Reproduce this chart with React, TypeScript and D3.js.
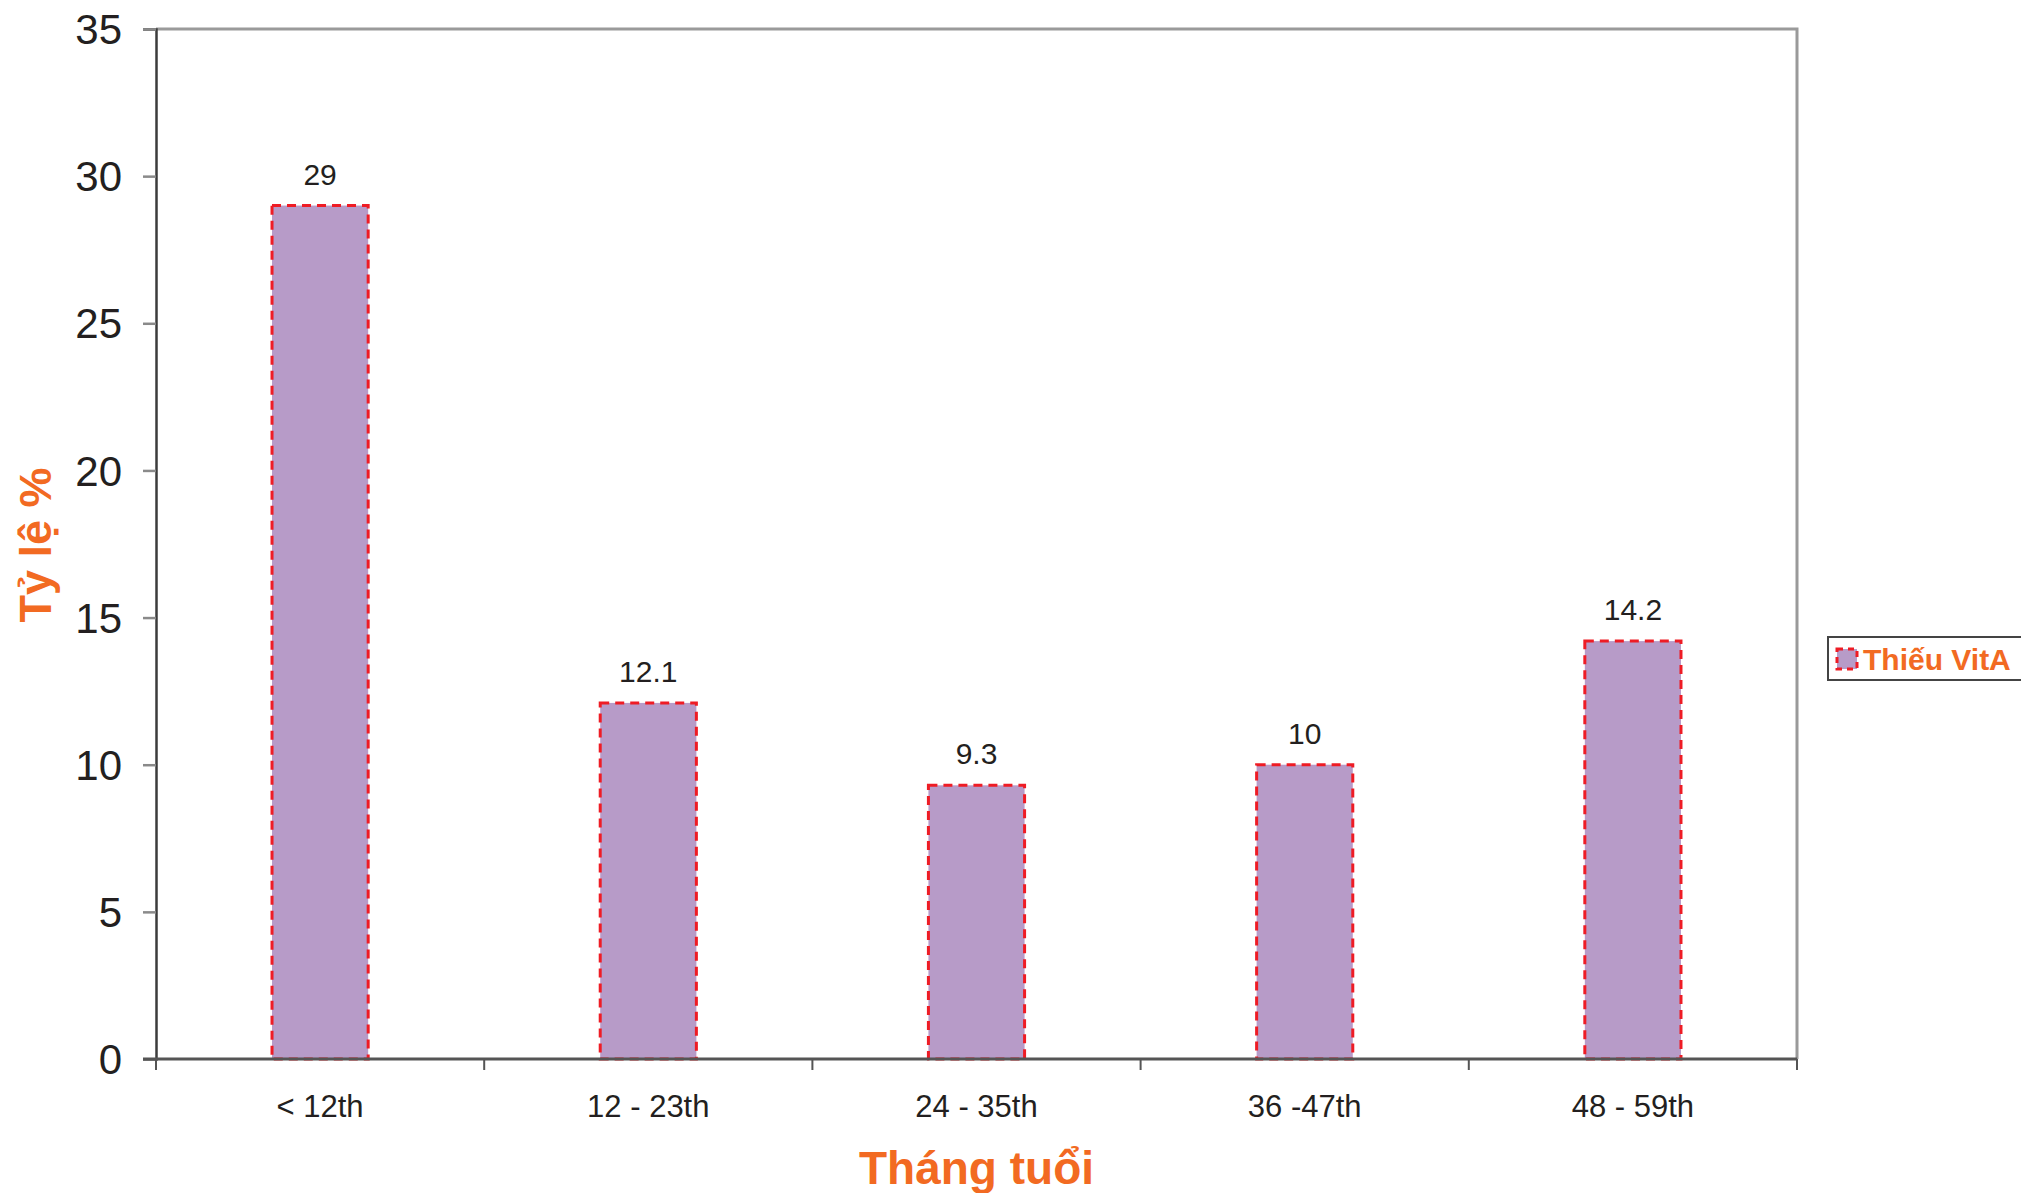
import * as d3 from "d3";
import { useEffect, useRef } from "react";

const categories = ["< 12th", "12 - 23th", "24 - 35th", "36 -47th", "48 - 59th"];
const values = [29, 12.1, 9.3, 10, 14.2];
const yTicks = [0, 5, 10, 15, 20, 25, 30, 35];
const seriesName = "Thiếu VitA";
const xTitle = "Tháng tuổi";
const yTitle = "Tỷ lệ %";

const FONT = "'Liberation Sans', Arial, Helvetica, sans-serif";
const ORANGE = "#f26a22";
const BAR = "#b79bc8";
const RED = "#ee1c25";

const App = () => {
  const ref = useRef<SVGSVGElement>(null);

  useEffect(() => {
    document.body.style.margin = "0";
    const svg = d3.select(ref.current);
    svg.selectAll("*").remove();
    const width = 2021;
    const height = 1193;
    svg.attr("width", width).attr("height", height);

    const margin = { top: 29, right: 224, bottom: 134, left: 156 };
    const x0 = margin.left;
    const x1 = width - margin.right;
    const y0 = height - margin.bottom;
    const y1 = margin.top;

    const xScale = d3
      .scaleBand<string>()
      .domain(categories)
      .range([x0, x1])
      .paddingInner(0.707)
      .paddingOuter(0.3535);

    const yScale = d3.scaleLinear().domain([0, 35]).range([y0, y1]);

    // plot frame (top + right in light gray)
    svg
      .append("path")
      .attr("d", `M${x0},${y1}H${x1}V${y0}`)
      .attr("fill", "none")
      .attr("stroke", "#9a9a9a")
      .attr("stroke-width", 3);

    // bars
    svg
      .selectAll("rect.bar")
      .data(values)
      .enter()
      .append("rect")
      .attr("class", "bar")
      .attr("x", (_, i) => xScale(categories[i])!)
      .attr("y", (d) => yScale(d))
      .attr("width", xScale.bandwidth())
      .attr("height", (d) => y0 - yScale(d))
      .attr("fill", BAR)
      .attr("stroke", RED)
      .attr("stroke-width", 3)
      .attr("stroke-dasharray", "9,6");

    // value labels
    svg
      .selectAll("text.val")
      .data(values)
      .enter()
      .append("text")
      .attr("class", "val")
      .attr("x", (_, i) => xScale(categories[i])! + xScale.bandwidth() / 2)
      .attr("y", (d) => yScale(d) - 21)
      .attr("text-anchor", "middle")
      .attr("font-family", FONT)
      .attr("font-size", 30)
      .attr("fill", "#231f20")
      .text((d) => String(d));

    // y axis
    const yAxis = d3
      .axisLeft(yScale)
      .tickValues(yTicks)
      .tickSize(13)
      .tickPadding(21)
      .tickFormat((d) => String(d));
    const gy = svg.append("g").attr("transform", `translate(${x0},0)`).call(yAxis);
    gy.select(".domain").attr("stroke", "#3c3c3c").attr("stroke-width", 2.5);
    gy.selectAll(".tick line").attr("stroke", "#8a8a8a").attr("stroke-width", 2.5);
    gy.selectAll(".tick text")
      .attr("font-family", FONT)
      .attr("font-size", 42)
      .attr("fill", "#231f20")
      .attr("dy", "0.35em");

    // x axis: ticks at category boundaries
    const step = xScale.step();
    const boundaries = d3.range(categories.length + 1).map((i) => x0 + i * step);
    svg
      .append("g")
      .selectAll("line")
      .data(boundaries)
      .enter()
      .append("line")
      .attr("x1", (d) => d)
      .attr("x2", (d) => d)
      .attr("y1", y0)
      .attr("y2", y0 + 11)
      .attr("stroke", "#555")
      .attr("stroke-width", 2);
    svg
      .append("line")
      .attr("x1", x0 - 13)
      .attr("x2", x1)
      .attr("y1", y0)
      .attr("y2", y0)
      .attr("stroke", "#555")
      .attr("stroke-width", 3);

    svg
      .append("g")
      .selectAll("text")
      .data(categories)
      .enter()
      .append("text")
      .attr("x", (d) => xScale(d)! + xScale.bandwidth() / 2)
      .attr("y", 1117)
      .attr("text-anchor", "middle")
      .attr("font-family", FONT)
      .attr("font-size", 31)
      .attr("fill", "#231f20")
      .text((d) => d);

    // axis titles
    svg
      .append("text")
      .attr("x", (x0 + x1) / 2)
      .attr("y", 1184)
      .attr("text-anchor", "middle")
      .attr("font-family", FONT)
      .attr("font-weight", "bold")
      .attr("font-size", 46)
      .attr("fill", ORANGE)
      .text(xTitle);

    svg
      .append("text")
      .attr("transform", `translate(51,545) rotate(-90)`)
      .attr("text-anchor", "middle")
      .attr("font-family", FONT)
      .attr("font-weight", "bold")
      .attr("font-size", 45)
      .attr("fill", ORANGE)
      .text(yTitle);

    // legend
    const lg = svg.append("g");
    lg.append("rect")
      .attr("x", 1828)
      .attr("y", 637)
      .attr("width", 200)
      .attr("height", 43)
      .attr("fill", "#fff")
      .attr("stroke", "#444")
      .attr("stroke-width", 2);
    lg.append("rect")
      .attr("x", 1837)
      .attr("y", 649)
      .attr("width", 20)
      .attr("height", 20)
      .attr("fill", BAR)
      .attr("stroke", RED)
      .attr("stroke-width", 3)
      .attr("stroke-dasharray", "6,5");
    lg.append("text")
      .attr("x", 1863)
      .attr("y", 670)
      .attr("font-family", FONT)
      .attr("font-weight", "bold")
      .attr("font-size", 30)
      .attr("fill", ORANGE)
      .text(seriesName);
  }, []);

  return <svg ref={ref}></svg>;
};

export default App;
